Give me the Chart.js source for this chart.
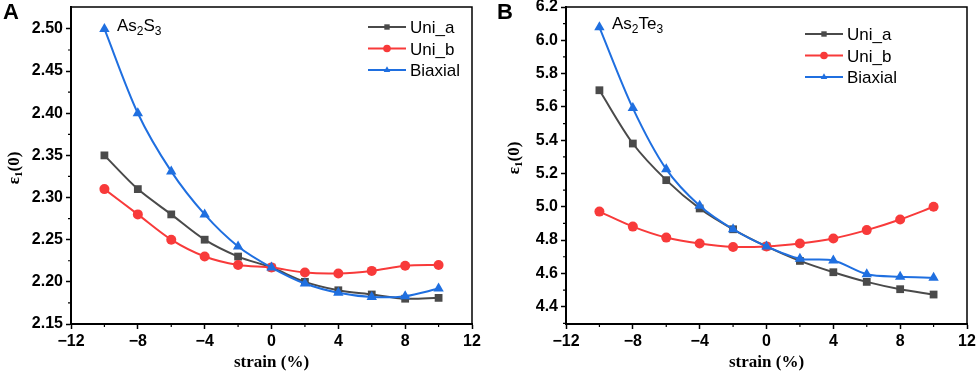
<!DOCTYPE html>
<html>
<head>
<meta charset="utf-8">
<script src="https://cdn.jsdelivr.net/npm/chart.js@4.4.1/dist/chart.umd.min.js"></script>
<style>
  html, body { margin: 0; padding: 0; background: #fff; }
  #wrap { position: relative; width: 976px; height: 373px; overflow: hidden; }
  canvas { position: absolute; top: 0; }
  #cA { left: 0; }
  #cB { left: 488px; }
</style>
</head>
<body>
<div id="wrap">
  <canvas id="cA" width="488" height="373"></canvas>
  <canvas id="cB" width="488" height="373"></canvas>
</div>
<script>
// strain values (%) shared by both panels
const strain = [-10, -8, -6, -4, -2, 0, 2, 4, 6, 8, 10];
const xTicks = [-12, -8, -4, 0, 4, 8, 12];
const xMinor = [-10, -6, -2, 2, 6, 10];

// Panel A : As2S3
const uniA_A = [2.35, 2.31, 2.28, 2.25, 2.23, 2.217, 2.20, 2.19, 2.185, 2.18, 2.181];
const uniB_A = [2.31, 2.28, 2.25, 2.23, 2.22, 2.217, 2.211, 2.21, 2.213, 2.219, 2.22];
const biax_A = [2.50, 2.40, 2.331, 2.28, 2.242, 2.217, 2.198, 2.187, 2.182, 2.183, 2.192];
const yTicksA = [2.15, 2.20, 2.25, 2.30, 2.35, 2.40, 2.45, 2.50];
const yMinorA = [2.175, 2.225, 2.275, 2.325, 2.375, 2.425, 2.475];

// Panel B : As2Te3
const uniA_B = [5.70, 5.38, 5.16, 4.99, 4.865, 4.762, 4.675, 4.607, 4.549, 4.505, 4.473];
const uniB_B = [4.971, 4.881, 4.815, 4.779, 4.759, 4.762, 4.780, 4.810, 4.860, 4.924, 5.0];
const biax_B = [6.078, 5.593, 5.226, 5.006, 4.865, 4.762, 4.688, 4.677, 4.595, 4.580, 4.574];
const yTicksB = [4.4, 4.6, 4.8, 5.0, 5.2, 5.4, 5.6, 5.8, 6.0, 6.2];
const yMinorB = [4.3, 4.5, 4.7, 4.9, 5.1, 5.3, 5.5, 5.7, 5.9, 6.1];

const series = ['Uni_a', 'Uni_b', 'Biaxial'];
const colors = { gray: '#4a4a4a', red: '#f83a3a', blue: '#1f6fe0' };

const SANS = '"Liberation Sans", Arial, sans-serif';
const SERIF = '"Liberation Serif", "Times New Roman", serif';

function makeDataset(label, ys, color, style, radius, order) {
  return {
    label: label,
    data: strain.map((x, i) => ({ x: x, y: ys[i] })),
    borderColor: color,
    backgroundColor: color,
    borderWidth: 2,
    pointStyle: style,
    pointRadius: radius,
    pointHoverRadius: radius,
    pointBorderWidth: 0,
    tension: 0.3,
    order: order
  };
}

// draws box, minor ticks, legend, labels
const decorPlugin = {
  id: 'decor',
  afterDraw(chart, args, opts) {
    const ctx = chart.ctx;
    const a = chart.chartArea;
    const xs = chart.scales.x, ys = chart.scales.y;
    ctx.save();

    // top / right frame
    ctx.strokeStyle = '#000';
    ctx.lineWidth = 1.5;
    ctx.beginPath();
    ctx.moveTo(a.left, a.top);
    ctx.lineTo(a.right, a.top);
    ctx.lineTo(a.right, a.bottom);
    ctx.stroke();

    // minor ticks
    ctx.lineWidth = 1.2;
    ctx.beginPath();
    opts.xMinor.forEach(v => {
      const px = xs.getPixelForValue(v);
      ctx.moveTo(px, a.bottom);
      ctx.lineTo(px, a.bottom + 3);
    });
    opts.yMinor.forEach(v => {
      const py = ys.getPixelForValue(v);
      ctx.moveTo(a.left, py);
      ctx.lineTo(a.left - 3, py);
    });
    ctx.stroke();

    // panel letter
    ctx.fillStyle = '#000';
    ctx.font = 'bold 22px ' + SANS;
    ctx.textBaseline = 'alphabetic';
    ctx.textAlign = 'left';
    ctx.fillText(opts.letter, opts.letterX, 19);

    // compound label with subscripts
    let cx = opts.compX;
    opts.comp.forEach(part => {
      ctx.font = (part.sub ? '12px ' : '17px ') + SANS;
      ctx.fillText(part.t, cx, opts.compY + (part.sub ? 4 : 0));
      cx += ctx.measureText(part.t).width;
    });

    // legend
    chart.data.datasets.forEach((ds, i) => {
      const y = opts.legY + i * 21.5;
      ctx.strokeStyle = ds.borderColor;
      ctx.lineWidth = 2;
      ctx.beginPath();
      ctx.moveTo(opts.legX, y);
      ctx.lineTo(opts.legX + 38, y);
      ctx.stroke();
      ctx.fillStyle = ds.backgroundColor;
      Chart.helpers.drawPoint(ctx, { pointStyle: ds.pointStyle, radius: 3.8, rotation: 0, borderWidth: 0 }, opts.legX + 19, y);
      ctx.fillStyle = '#000';
      ctx.font = '17px ' + SANS;
      ctx.fillText(ds.label, opts.legX + 42, y + 6);
    });

    // y title  ε1(0), rotated
    ctx.translate(opts.ytX, opts.ytY);
    ctx.rotate(-Math.PI / 2);
    ctx.fillStyle = '#000';
    const p1 = 'ε', p2 = '1', p3 = '(0)';
    ctx.font = 'bold 17px ' + SERIF;
    const w1 = ctx.measureText(p1).width, w3 = ctx.measureText(p3).width;
    ctx.font = 'bold 11px ' + SERIF;
    const w2 = ctx.measureText(p2).width;
    let tx = -(w1 + w2 + w3) / 2;
    ctx.font = 'bold 17px ' + SERIF;
    ctx.fillText(p1, tx, 6);
    tx += w1;
    ctx.font = 'bold 11px ' + SERIF;
    ctx.fillText(p2, tx, 9);
    tx += w2;
    ctx.font = 'bold 17px ' + SERIF;
    ctx.fillText(p3, tx, 6);

    ctx.restore();
  }
};

function fmtX(v) {
  return v < 0 ? '\u2212' + Math.abs(v) : String(v);
}

function makeChart(id, cfg) {
  return new Chart(document.getElementById(id), {
    type: 'line',
    data: {
      datasets: [
        makeDataset(series[0], cfg.a, colors.gray, 'rect', 5.5, 2),
        makeDataset(series[1], cfg.b, colors.red, 'circle', 5, 1),
        makeDataset(series[2], cfg.c, colors.blue, 'triangle', 6, 0)
      ]
    },
    options: {
      responsive: false,
      animation: false,
      devicePixelRatio: 1,
      layout: { padding: cfg.padding },
      plugins: {
        legend: { display: false },
        tooltip: { enabled: false },
        decor: cfg.decor
      },
      scales: {
        x: {
          type: 'linear',
          min: -12,
          max: 12,
          afterBuildTicks: s => { s.ticks = xTicks.map(v => ({ value: v })); },
          afterFit: s => { s.height = 49; s.paddingLeft = 0; s.paddingRight = 0; },
          ticks: {
            color: '#000',
            font: { family: SANS, size: 16, weight: 'bold' },
            padding: 3,
            maxRotation: 0,
            autoSkip: false,
            callback: v => fmtX(v)
          },
          grid: { drawOnChartArea: false, tickLength: 5, tickWidth: 1.5, tickColor: '#000' },
          border: { color: '#000', width: 2 },
          title: {
            display: true,
            text: 'strain (%)',
            color: '#000',
            font: { family: SERIF, size: 17, weight: 'bold' },
            padding: { top: 0, bottom: 0 }
          }
        },
        y: {
          min: cfg.yMin,
          max: cfg.yMax,
          afterBuildTicks: s => { s.ticks = cfg.yTicks.map(v => ({ value: v })); },
          afterFit: s => { s.width = cfg.yWidth; s.paddingTop = 0; s.paddingBottom = 0; },
          ticks: {
            color: '#000',
            font: { family: SANS, size: 16, weight: 'bold' },
            padding: 3,
            callback: v => v.toFixed(cfg.dec)
          },
          grid: { drawOnChartArea: false, tickLength: 5, tickWidth: 1.5, tickColor: '#000' },
          border: { color: '#000', width: 2 }
        }
      }
    },
    plugins: [decorPlugin]
  });
}

makeChart('cA', {
  a: uniA_A, b: uniB_A, c: biax_A,
  yMin: 2.15, yMax: 2.526, yTicks: yTicksA, dec: 2, yWidth: 71,
  padding: { left: 0, top: 7, right: 16, bottom: 0 },
  decor: {
    xMinor: xMinor, yMinor: yMinorA,
    letter: 'A', letterX: 3,
    comp: [{ t: 'As' }, { t: '2', sub: true }, { t: 'S' }, { t: '3', sub: true }],
    compX: 117, compY: 31,
    legX: 368, legY: 27,
    ytX: 13, ytY: 168
  }
});

makeChart('cB', {
  a: uniA_B, b: uniB_B, c: biax_B,
  yMin: 4.296, yMax: 6.2, yTicks: yTicksB, dec: 1, yWidth: 78,
  padding: { left: 0, top: 7, right: 9, bottom: 0 },
  decor: {
    xMinor: xMinor, yMinor: yMinorB,
    letter: 'B', letterX: 9,
    comp: [{ t: 'As' }, { t: '2', sub: true }, { t: 'Te' }, { t: '3', sub: true }],
    compX: 124, compY: 29,
    legX: 317, legY: 34,
    ytX: 25, ytY: 158
  }
});
</script>
</body>
</html>
